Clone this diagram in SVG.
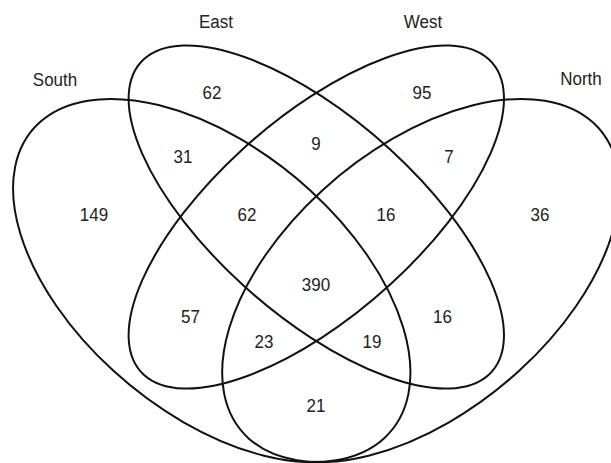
<svg xmlns="http://www.w3.org/2000/svg" width="611" height="463" viewBox="0 0 611 463">
  <style>
    .set { fill: none; stroke: #111; stroke-width: 2; vector-effect: non-scaling-stroke; }
    .t { font-family: "Liberation Sans", Arial, sans-serif; font-size: 17px; fill: #222; text-anchor: middle; }
  </style>
  <rect width="611" height="463" fill="#fff"/>
  <g id="South">
    <ellipse class="set" cx="0" cy="0" rx="0.35" ry="0.2" transform="translate(211.75,280.5) scale(697,637) rotate(45)"/>
    <text class="t" transform="translate(55,86) scale(1,1.12)">South</text>
  </g>
  <g id="East">
    <ellipse class="set" cx="0" cy="0" rx="0.35" ry="0.15" transform="translate(316.3,217) scale(697,637) rotate(45)"/>
    <text class="t" transform="translate(216,28) scale(1,1.12)">East</text>
  </g>
  <g id="West">
    <ellipse class="set" cx="0" cy="0" rx="0.35" ry="0.15" transform="translate(316.3,217) scale(697,637) rotate(-45)"/>
    <text class="t" transform="translate(423,28) scale(1,1.12)">West</text>
  </g>
  <g id="North">
    <ellipse class="set" cx="0" cy="0" rx="0.35" ry="0.2" transform="translate(420.85,280.5) scale(697,637) rotate(-45)"/>
    <text class="t" transform="translate(581,85) scale(1,1.12)">North</text>
  </g>
  <g id="counts">
    <text class="t" transform="translate(212,99) scale(1,1.12)">62</text>
    <text class="t" transform="translate(422,99) scale(1,1.12)">95</text>
    <text class="t" transform="translate(316,150) scale(1,1.12)">9</text>
    <text class="t" transform="translate(183,163) scale(1,1.12)">31</text>
    <text class="t" transform="translate(449,163) scale(1,1.12)">7</text>
    <text class="t" transform="translate(94,221) scale(1,1.12)">149</text>
    <text class="t" transform="translate(247,221) scale(1,1.12)">62</text>
    <text class="t" transform="translate(386,221) scale(1,1.12)">16</text>
    <text class="t" transform="translate(540,221) scale(1,1.12)">36</text>
    <text class="t" transform="translate(316,291) scale(1,1.12)">390</text>
    <text class="t" transform="translate(190.5,323) scale(1,1.12)">57</text>
    <text class="t" transform="translate(442.5,323) scale(1,1.12)">16</text>
    <text class="t" transform="translate(264,348) scale(1,1.12)">23</text>
    <text class="t" transform="translate(372,348) scale(1,1.12)">19</text>
    <text class="t" transform="translate(316,412) scale(1,1.12)">21</text>
  </g>
</svg>
